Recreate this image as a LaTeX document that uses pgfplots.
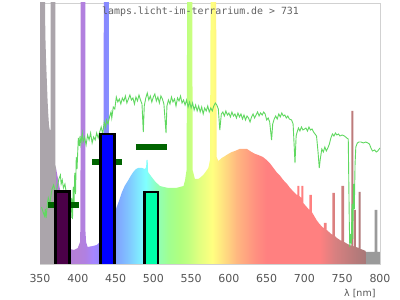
\documentclass[border=0pt]{standalone}
\usepackage{pgfplots}
\pgfplotsset{compat=1.18}
\usepackage{fontspec}
\setmainfont{DejaVu Sans}
\newfontfamily\monofont{DejaVu Sans Mono}
\definecolor{cgray}{HTML}{ABA5AB}
\definecolor{c369}{HTML}{B27CD6}
\definecolor{c400}{HTML}{B580D8}
\definecolor{c410}{HTML}{B080E2}
\definecolor{c420}{HTML}{A685FF}
\definecolor{c436}{HTML}{8888FF}
\definecolor{c450}{HTML}{80A0FF}
\definecolor{c465}{HTML}{80C0FF}
\definecolor{c480}{HTML}{80E8FF}
\definecolor{c490}{HTML}{80FFFF}
\definecolor{c505}{HTML}{90FFB8}
\definecolor{c520}{HTML}{A0FF90}
\definecolor{c535}{HTML}{B0FF80}
\definecolor{c546}{HTML}{C0FF80}
\definecolor{c560}{HTML}{E0FF80}
\definecolor{c578}{HTML}{FFFF80}
\definecolor{c590}{HTML}{FFE680}
\definecolor{c600}{HTML}{FFD080}
\definecolor{c610}{HTML}{FFB880}
\definecolor{c620}{HTML}{FFA880}
\definecolor{c635}{HTML}{FF9080}
\definecolor{c650}{HTML}{FF8080}
\definecolor{c720}{HTML}{FF8080}
\definecolor{c740}{HTML}{D88080}
\definecolor{c760}{HTML}{C07C7C}
\definecolor{c780}{HTML}{A87878}
\definecolor{cir}{HTML}{9A9A9A}
\definecolor{sunline}{HTML}{60D860}
\definecolor{dashgreen}{HTML}{006400}
\definecolor{barA}{HTML}{4B0048}
\definecolor{barB}{HTML}{0000FF}
\definecolor{barC}{HTML}{00FFAA}
\pgfdeclarehorizontalshading{spectrum}{100bp}{%
color(0bp)=(cgray);
color(25bp)=(cgray);
color(27.22bp)=(cgray);
color(27.28bp)=(c369);
color(30.556bp)=(c400);
color(31.667bp)=(c410);
color(32.778bp)=(c420);
color(34.556bp)=(c436);
color(36.111bp)=(c450);
color(37.778bp)=(c465);
color(39.444bp)=(c480);
color(40.556bp)=(c490);
color(42.222bp)=(c505);
color(43.889bp)=(c520);
color(45.556bp)=(c535);
color(46.778bp)=(c546);
color(48.333bp)=(c560);
color(50.333bp)=(c578);
color(51.667bp)=(c590);
color(52.778bp)=(c600);
color(53.889bp)=(c610);
color(55bp)=(c620);
color(56.667bp)=(c635);
color(58.333bp)=(c650);
color(66.111bp)=(c720);
color(68.333bp)=(c740);
color(70.556bp)=(c760);
color(72.833bp)=(c780);
color(72.889bp)=(cir);
color(75bp)=(cir);
color(100bp)=(cir)}
\begin{document}
\begin{tikzpicture}
\useasboundingbox (-40pt,-36pt) rectangle (360pt,264pt);
\begin{axis}[
  at={(0,0)}, anchor=south west,
  scale only axis, width=340pt, height=261pt,
  xmin=350, xmax=800, ymin=0, ymax=261,
  xtick={350,400,...,800}, ytick=\empty,
  major tick length=0pt,
  axis line style={draw=black!18},
  tick label style={font=\fontsize{11}{13}\selectfont, text=black!67},
  xticklabel style={anchor=base, yshift=-18.3pt},
  /pgf/number format/assume math mode=true,
  xlabel={λ [nm]},
  xlabel style={at={(rel axis cs:1,0)}, anchor=base east, yshift=-33pt, xshift=-1pt, font=\fontsize{9.5}{11}\selectfont, text=black!67},
  clip=true,
]
% lamp spectrum
\addplot[draw=none, shading=spectrum] coordinates {
(350,300)(356.5,300)(357,231)(358,204)(359,184)(360,164)(361,149)(362,138)(363,134)(364,134)
(364,300)(370.2,300)(370.2,100)(380,60)(389,20)
(390,15)(395,14)(400,16)(403,22)(403.5,40)(404,300)(410,300)(410,35)(411,22)(413,17)
(420,18)(425,19)(428,21)(430,22)(434,25)(434.5,300)(441,300)(441,40)(445,40)
(450,50)(451,56)(455,64)(458,71)(462,78)(467,84)(470,88)(473.5,92)(477,95)(480,96)
(485,96)(489,95)(490.5,97)(491,104)(492.5,104)(493,92)(497.8,87)(503,82)(508.8,78)
(514,77)(520,76)(530,76)(540,78)(542,84)(544,94)(545,300)(551.6,300)(552,94)(553,91)
(555,85)(559.5,85)(563,87)(566,89)(570,93)(572.8,96)(575,104)(576,300)(583,300)
(583.8,107)(586,103)(590.5,106)(595,108)(599,110)(604,112)(608,113)(614,115)(620,115)
(624,115)(630,112)(635,110)(639,109)(645,107)(650,104)(654,101)(658,97)(663,92)
(668,88)(672,84)(677,80)(681,76)(686,72)(690,69)(690.5,69)(690.5,78)(693.2,78)(693.2,68)
(695.8,66)(695.8,78)(698.5,78)(698.5,61)(703,57)(706.5,54)(706.5,69)(709.8,69)(709.8,52)
(716,44)(720,40)(725,36)(725.8,36)(725.8,41)(729.5,41)(729.5,34)(734,31)(737,29)
(737,71)(740.2,71)(740.2,28)(743,26)(749,23)(749,78)(752.6,78)(752.6,22)(757,20)
(760,19)(762.2,18)(762.2,153)(764.8,153)(764.8,18)(765.8,17)(765.8,54)(768.2,54)(768.2,17)
(771.6,16)(771.6,72)(774.4,72)(774.4,15)(778,14)(781,13)(781,12)(792.8,12)(792.8,54)(796.6,54)
(796.6,12)(800,12)
} \closedcycle;
% sunlight reference line
\addplot[draw=sunline, line width=0.9pt] coordinates {
(352,57)(354,52)(356,48)(357,55)(358,46)(360,62)(361,66)(363,60)(365,71)(366,75)(368,79)
(371,70)(373,78)(375,85)(377,89)(378,80)(379.5,84)(381,76)(383,80)(385,70)(387,62)(389,58)
(391,50)(392,66)(393,45)(394,77)(395,60)(396,91)(397,70)(398,107)(399,95)(400.7,126)
(402,118)(403,128)(404,120)(406,131)(407,122)(409,127)(411,119)(413,129)(415,124)
(417,131)(419,121)(421,127)(423,124)(425,131)(427,126)(429,132)(431,137)(433,130)
(435,142)(437,136)(438,144)(440,140)(442,147)(444,152)(445,146)(447,157)(449,155)
(451,167)(453,162)(455,165)(457,160)(459,166)(461,163)(463,168)(465,161)(467,165)
(469,169)(471,164)(473,166)(475,160)(477,167)(479,163)(481,169)(483,164)(485,160)
(486.7,132)(488,158)(490,166)(492,171)(494,164)(496,168)(498,162)(500,167)(502,170)
(504,163)(506,167)(508,161)(510,168)(512,165)(514,160)(516.8,131)(518,158)(520,164)
(522,160)(524,167)(526,162)(528,165)(530,158)(532,166)(534,163)(536,168)(538,161)
(540,164)(542,159)(544,164)(546,157)(548,162)(550,156)(552,161)(554,154)(556,159)
(558,153)(560,158)(562,152)(564,157)(566,150)(568,156)(570,153)(572,158)(574,152)
(576,156)(578,153)(580,158)(582,161)(584,159)(586,155)(588,134)(590,150)(592,152)
(594,148)(596,153)(598,149)(600,151)(602,147)(604,152)(606,148)(608,150)(610,146)
(612,151)(614,147)(616,150)(618,145)(620,149)(622,144)(624,148)(626,146)(628,142)
(630,147)(632,150)(634,146)(636,149)(638,152)(640,148)(642,151)(644,149)(646,152)
(648,150)(650,144)(652,146)(654,142)(656.5,124)(658,140)(660,145)(662,148)(664,145)
(666,150)(668,147)(670,151)(672,148)(674,149)(676,146)(678,148)(680,145)(683,144)
(685,140)(687.5,101)(689,128)(690,131)(692,136)(694,133)(696,137)(698,134)(700,135)
(702,136)(704,133)(706,137)(708,134)(710,135)(712,132)(714,130)(716,128)(718,112)
(719.6,96)(721,105)(723,115)(725,112)(727,117)(729,113)(731,116)(733,120)(735,126)
(737,130)(739,128)(741,131)(743,129)(745,130)(747,128)(750,129)(753,128)(756,126)
(758,125)(759.4,40)(760,17)(761,30)(762,20)(763,60)(764,25)(765,80)(766,55)(767,100)
(768,117)(770,121)(772,122)(775,122)(778,121)(781,122)(784,121)(786,120)(788,116)
(790,113)(793,114)(795,112)(797,113)(800,116)
};
% green dashes
\addplot[draw=dashgreen, line width=6pt] coordinates {(361,58.7)(401,58.7)};
\addplot[draw=dashgreen, line width=6pt] coordinates {(419,101.7)(459,101.7)};
\addplot[draw=dashgreen, line width=6pt] coordinates {(477,117)(518,117)};
% bars
\addplot[fill=barA, draw=black, line width=2.5pt] coordinates {(370.5,-5)(370.5,72.7)(389,72.7)(389,-5)} -- cycle;
\addplot[fill=barB, draw=black, line width=2.5pt] coordinates {(430.2,-5)(430.2,130)(448.5,130)(448.5,-5)} -- cycle;
\addplot[fill=barC, draw=black, line width=2.5pt] coordinates {(488.4,-5)(488.4,72)(506.2,72)(506.2,-5)} -- cycle;
\node[font=\monofont\fontsize{9.9}{12}\selectfont, text=black!62, anchor=base] at (axis cs:562.5,249) {lamps.licht-im-terrarium.de > 731};
\end{axis}
\end{tikzpicture}
\end{document}
